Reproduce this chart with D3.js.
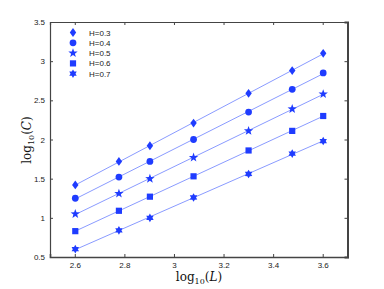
<!DOCTYPE html>
<html>
<head>
<meta charset="utf-8">
<script src="https://cdn.jsdelivr.net/npm/d3@7"></script>
<style>
  body { margin: 0; background: #fff; }
  svg { display: block; }
  .tick text { font-family: "Liberation Sans", Arial, sans-serif; font-size: 8px; fill: #222; }
  .lab { font-family: "DejaVu Serif", "Liberation Serif", serif; font-size: 12px; fill: #111; }
</style>
</head>
<body>
<svg width="384" height="289"></svg>
<script>
// log10(L) for the system sizes
var logL = [2.602, 2.778, 2.903, 3.079, 3.301, 3.477, 3.602];
var hurst = ["H=0.3", "H=0.4", "H=0.5", "H=0.6", "H=0.7"];
var c03 = [1.42, 1.72, 1.92, 2.21, 2.59, 2.88, 3.10];
var c04 = [1.25, 1.52, 1.72, 2.00, 2.35, 2.64, 2.85];
var c05 = [1.05, 1.31, 1.50, 1.77, 2.11, 2.39, 2.58];
var c06 = [0.83, 1.09, 1.27, 1.53, 1.86, 2.11, 2.30];
var c07 = [0.60, 0.84, 1.00, 1.26, 1.56, 1.82, 1.98];
var xTicks = [2.6, 2.8, 3, 3.2, 3.4, 3.6];
var yTicks = [0.5, 1, 1.5, 2, 2.5, 3, 3.5];

var allSeries = [c03, c04, c05, c06, c07];

var pLeft = 50, pRight = 347.5, pTop = 22, pBottom = 257;
var svg = d3.select("svg");

var x = d3.scaleLinear().domain([2.5, 3.7]).range([pLeft, pRight]);
var y = d3.scaleLinear().domain([0.5, 3.5]).range([pBottom, pTop]);

// star path helper (n points)
function starPath(n, ro, ri) {
    var p = [];
    for (var i = 0; i < 2 * n; i++) {
        var a = Math.PI * i / n - Math.PI / 2;
        var r = i % 2 == 0 ? ro : ri;
        p.push([r * Math.cos(a), r * Math.sin(a)]);
    }
    return "M" + p.map(function(d) { return d[0].toFixed(2) + "," + d[1].toFixed(2); }).join("L") + "Z";
}
var shapes = [
    "M0,-4.4L3.2,0L0,4.4L-3.2,0Z",
    d3.symbol().type(d3.symbolCircle).size(36)(),
    starPath(5, 4.9, 2.0),
    "M-3.1,-3.1H3.1V3.1H-3.1Z",
    starPath(6, 4.3, 2.5)
];

var markColor = "#1f3cff";
var lineColor = "#8a9bff";

// fitted lines
allSeries.forEach(function(s) {
    var mx = d3.mean(logL), my = d3.mean(s);
    var b = d3.sum(logL, function(v, i) { return (v - mx) * (s[i] - my); }) /
            d3.sum(logL, function(v) { return (v - mx) * (v - mx); });
    var a = my - b * mx;
    var x0 = logL[0], x1 = logL[logL.length - 1];
    svg.append("line")
        .attr("x1", x(x0)).attr("y1", y(a + b * x0))
        .attr("x2", x(x1)).attr("y2", y(a + b * x1))
        .attr("stroke", lineColor).attr("stroke-width", 1);
});

// markers
allSeries.forEach(function(s, k) {
    svg.append("g").selectAll("path")
        .data(s)
        .enter()
        .append("path")
        .attr("d", shapes[k])
        .attr("transform", function(d, i) { return "translate(" + x(logL[i]) + "," + y(d) + ")"; })
        .attr("fill", markColor);
});

// axes with inward ticks
var axisColor = "#444";
var gx = svg.append("g").attr("transform", "translate(0," + pBottom + ")")
    .call(d3.axisBottom(x).tickValues(xTicks).tickSize(-3).tickPadding(5).tickFormat(d3.format("")));
var gy = svg.append("g").attr("transform", "translate(" + pLeft + ",0)")
    .call(d3.axisLeft(y).tickValues(yTicks).tickSize(-3).tickPadding(5).tickFormat(d3.format("")));
var gt = svg.append("g").attr("transform", "translate(0," + pTop + ")")
    .call(d3.axisTop(x).tickValues(xTicks).tickSize(-3).tickFormat(""));
var gr = svg.append("g").attr("transform", "translate(" + pRight + ",0)")
    .call(d3.axisRight(y).tickValues(yTicks).tickSize(-3).tickFormat(""));
[gx, gy, gt, gr].forEach(function(g) {
    g.select(".domain").attr("stroke", axisColor).attr("stroke-width", 1.2);
    g.selectAll(".tick line").attr("stroke", axisColor);
});
gr.select(".domain").attr("stroke-width", 2);
gx.select(".domain").attr("stroke-width", 1.6);

// legend
var lg = svg.append("g");
hurst.forEach(function(h, k) {
    var ly = 32.5 + k * 10.3;
    lg.append("path").attr("d", shapes[k])
        .attr("transform", "translate(73," + ly + ")")
        .attr("fill", markColor);
    lg.append("text").attr("x", 89).attr("y", ly + 3)
        .attr("font-family", "Liberation Sans, Arial, sans-serif")
        .attr("font-size", 8).attr("fill", "#222")
        .text(h);
});

// axis labels
var xl = svg.append("text").attr("class", "lab")
    .attr("x", 199).attr("y", 281).attr("text-anchor", "middle");
xl.append("tspan").text("log");
xl.append("tspan").attr("font-size", 8).attr("dy", 3).text("10");
xl.append("tspan").attr("dy", -3).text("(");
xl.append("tspan").attr("font-style", "italic").text("L");
xl.append("tspan").text(")");

var yl = svg.append("text").attr("class", "lab")
    .attr("transform", "translate(31,140) rotate(-90)").attr("text-anchor", "middle");
yl.append("tspan").text("log");
yl.append("tspan").attr("font-size", 8).attr("dy", 3).text("10");
yl.append("tspan").attr("dy", -3).text("(");
yl.append("tspan").attr("font-style", "italic").text("C");
yl.append("tspan").text(")");
</script>
</body>
</html>
